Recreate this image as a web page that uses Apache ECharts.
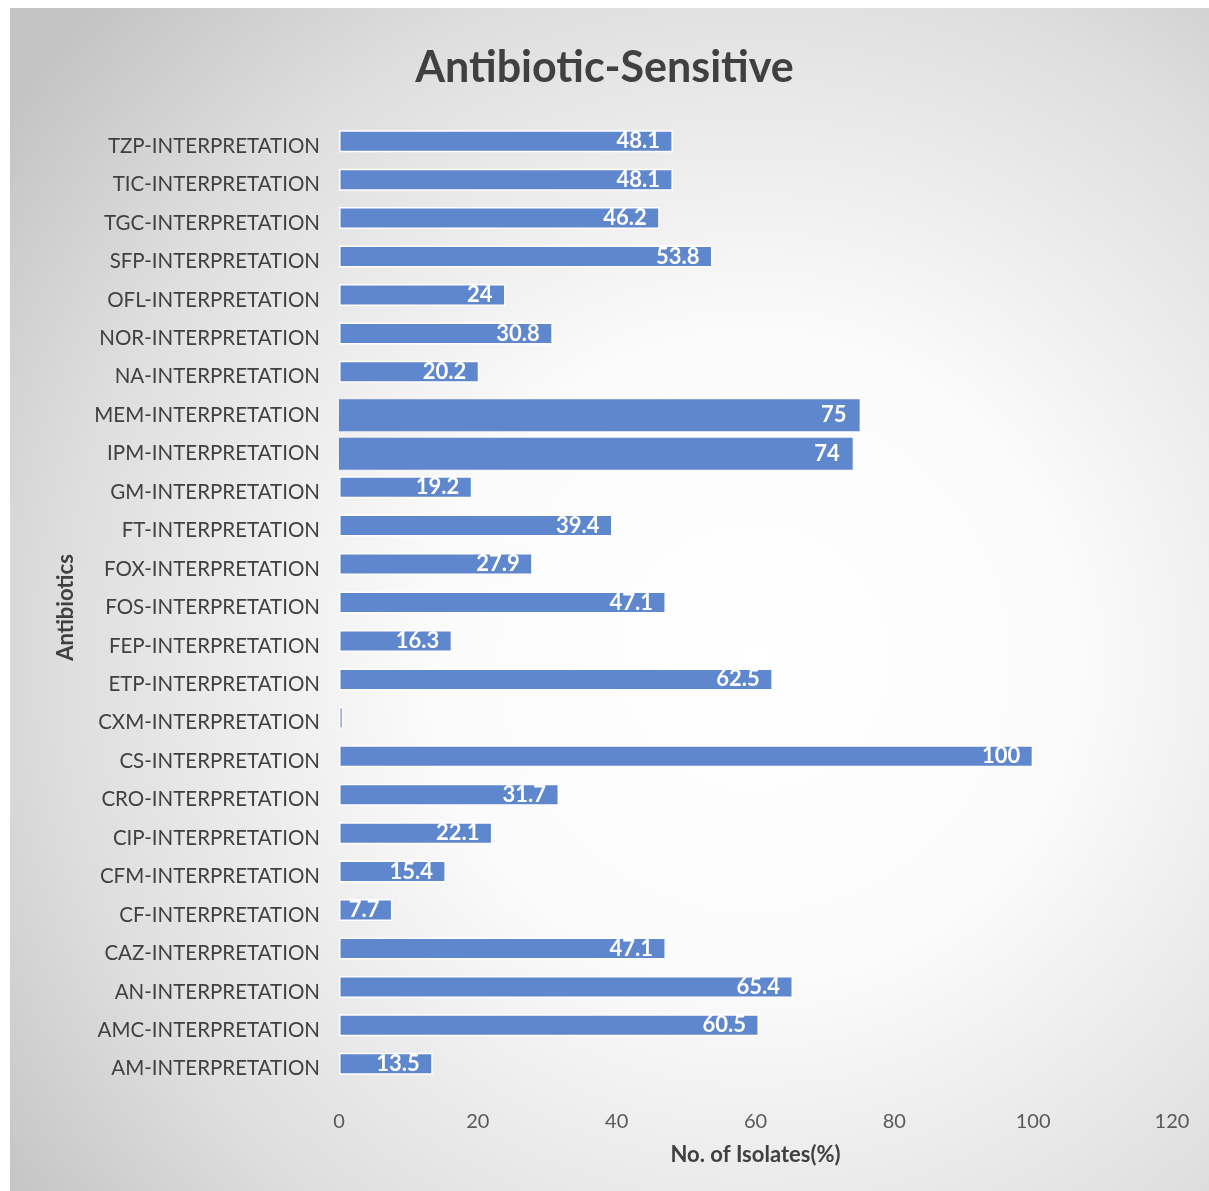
<!DOCTYPE html>
<html>
<head>
<meta charset="utf-8">
<style>
  html, body { margin: 0; padding: 0; background: #ffffff; }
  #chart { width: 1209px; height: 1191px; }
</style>
<script src="https://cdn.jsdelivr.net/npm/echarts@6/dist/echarts.min.js"></script>
</head>
<body>
<div id="chart"></div>
<script>
// Antibiotics, listed top to bottom
const antibiotics = [
  'TZP-INTERPRETATION', 'TIC-INTERPRETATION', 'TGC-INTERPRETATION', 'SFP-INTERPRETATION',
  'OFL-INTERPRETATION', 'NOR-INTERPRETATION', 'NA-INTERPRETATION', 'MEM-INTERPRETATION',
  'IPM-INTERPRETATION', 'GM-INTERPRETATION', 'FT-INTERPRETATION', 'FOX-INTERPRETATION',
  'FOS-INTERPRETATION', 'FEP-INTERPRETATION', 'ETP-INTERPRETATION', 'CXM-INTERPRETATION',
  'CS-INTERPRETATION', 'CRO-INTERPRETATION', 'CIP-INTERPRETATION', 'CFM-INTERPRETATION',
  'CF-INTERPRETATION', 'CAZ-INTERPRETATION', 'AN-INTERPRETATION', 'AMC-INTERPRETATION',
  'AM-INTERPRETATION'
];

// Sensitive isolates (%) per antibiotic
const sensitivePct = [
  48.1, 48.1, 46.2, 53.8,
  24, 30.8, 20.2, 75,
  74, 19.2, 39.4, 27.9,
  47.1, 16.3, 62.5, 0.6,
  100, 31.7, 22.1, 15.4,
  7.7, 47.1, 65.4, 60.5,
  13.5
];

// Carbapenems drawn as wider bars
const widePair = ['MEM-INTERPRETATION', 'IPM-INTERPRETATION'];

// Value axis ticks
const xTicks = [0, 20, 40, 60, 80, 100, 120];

const barColor = '#5f87cd';
const textDark = '#404040';
const fontFamily = 'Lato, "Open Sans", sans-serif';

const normalData = antibiotics.map((name, i) => {
  if (widePair.includes(name)) return '-';
  const v = sensitivePct[i];
  return v < 1 ? { value: v, label: { show: false } } : v;
});
const wideData = antibiotics.map((name, i) => widePair.includes(name) ? sensitivePct[i] : '-');

const labelStyle = {
  show: true,
  position: 'insideRight',
  distance: 13,
  color: '#ffffff',
  fontFamily: fontFamily,
  fontWeight: 'bold',
  fontSize: 22
};

const chart = echarts.init(document.getElementById('chart'), null, { renderer: 'canvas' });

chart.setOption({
  animation: false,
  backgroundColor: '#ffffff',
  graphic: [{
    type: 'rect',
    z: -10,
    silent: true,
    shape: { x: 10, y: 8, width: 1199, height: 1183 },
    style: {
      fill: {
        type: 'radial', x: 0.62, y: 0.55, r: 0.78,
        colorStops: [
          { offset: 0, color: '#ffffff' },
          { offset: 0.35, color: '#fbfbfb' },
          { offset: 0.75, color: '#dedede' },
          { offset: 1, color: '#c4c4c4' }
        ]
      }
    }
  }],
  title: {
    text: 'Antibiotic-Sensitive',
    left: 'center',
    top: 42,
    textStyle: { fontFamily: fontFamily, fontSize: 43, fontWeight: 'bold', color: textDark }
  },
  grid: { left: 339, right: 37, top: 127, bottom: 103, containLabel: false },
  xAxis: {
    type: 'value',
    min: 0, max: 120, interval: 20,
    name: 'No. of Isolates(%)',
    nameLocation: 'middle',
    nameGap: 56,
    nameTextStyle: { fontFamily: fontFamily, fontSize: 22, fontWeight: 'bold', color: textDark },
    axisLine: { show: false },
    axisTick: { show: false },
    splitLine: { show: false },
    axisLabel: {
      margin: 24, fontFamily: fontFamily, fontSize: 20, color: '#595959',
      formatter: v => xTicks.includes(v) ? String(v) : ''
    }
  },
  yAxis: {
    type: 'category',
    inverse: true,
    data: antibiotics,
    name: 'Antibiotics',
    nameLocation: 'middle',
    nameGap: 262,
    nameRotate: 90,
    nameTextStyle: { fontFamily: fontFamily, fontSize: 22, fontWeight: 'bold', color: textDark },
    axisLine: { show: false },
    axisTick: { show: false },
    splitLine: { show: false },
    axisLabel: { margin: 19, fontFamily: fontFamily, fontSize: 20.5, color: textDark }
  },
  series: [
    {
      type: 'bar',
      data: normalData,
      barWidth: 22,
      itemStyle: { color: barColor, borderColor: '#ffffff', borderWidth: 1.5 },
      label: labelStyle
    },
    {
      type: 'bar',
      data: wideData,
      barWidth: 32,
      barGap: '-100%',
      itemStyle: { color: barColor, borderColor: barColor, borderWidth: 0 },
      label: labelStyle
    }
  ]
});
</script>
</body>
</html>
